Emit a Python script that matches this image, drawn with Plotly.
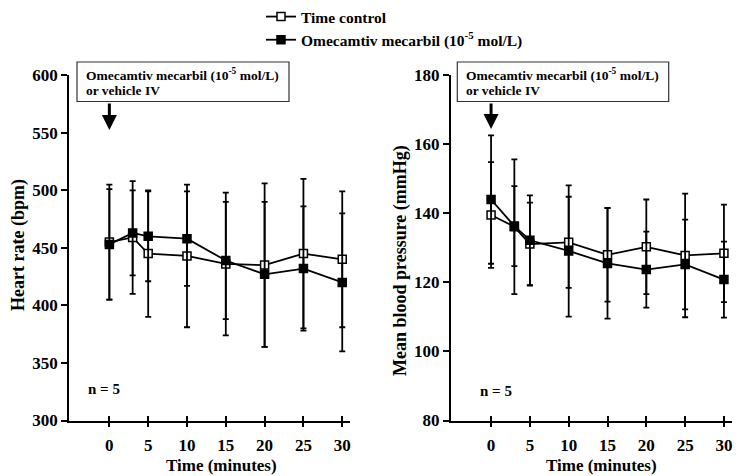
import plotly.graph_objects as go

# ---------------- data ----------------
time_min = [0, 3, 5, 10, 15, 20, 25, 30]

hr_control = [455, 459, 445, 443, 436, 435, 445, 440]
hr_control_sd = [50, 49, 55, 62, 62, 71, 65, 59]
hr_omecamtiv = [453, 463, 460, 458, 439, 427, 432, 420]
hr_omecamtiv_sd = [48, 37, 39, 41, 51, 63, 54, 60]

mbp_control = [139.5, 136.1, 131.1, 131.6, 128.0, 130.3, 127.8, 128.4]
mbp_control_sd = [15.3, 19.5, 12.0, 13.2, 13.6, 13.7, 17.9, 14.1]
mbp_omecamtiv = [144.0, 136.3, 132.2, 129.1, 125.5, 123.7, 125.2, 120.8]
mbp_omecamtiv_sd = [18.6, 11.6, 13.0, 19.0, 16.0, 11.0, 13.0, 11.0]

x_ticks = [0, 5, 10, 15, 20, 25, 30]
hr_ticks = [300, 350, 400, 450, 500, 550, 600]
mbp_ticks = [80, 100, 120, 140, 160, 180]

name_control = "Time control"
name_omec = "Omecamtiv mecarbil (10<sup>-5</sup> mol/L)"
box_line1 = "Omecamtiv mecarbil (10<sup>-5</sup> mol/L)"
box_line2 = "or vehicle IV"

W, H = 750, 476
MT, MB = 40, 40
FONT = "Liberation Serif"


def px(x):
    return x / W


def py(y):
    # pixel y (from top of the page) -> paper fraction of the plot area
    return (H - MB - y) / (H - MT - MB)


fig = go.Figure()


def add_series(xa, ya, y, sd, name, filled, show):
    fig.add_trace(go.Scatter(
        x=time_min, y=y, name=name, xaxis=xa, yaxis=ya,
        mode="lines+markers", showlegend=show, legendgroup=name,
        line=dict(color="black", width=1.8),
        marker=dict(symbol="square", size=8,
                    color="black" if filled else "white",
                    line=dict(color="black", width=1.5)),
        error_y=dict(type="data", array=sd, visible=True,
                     color="black", thickness=1.8, width=3),
        cliponaxis=False,
    ))


add_series("x", "y", hr_control, hr_control_sd, name_control, False, True)
add_series("x", "y", hr_omecamtiv, hr_omecamtiv_sd, name_omec, True, True)
add_series("x2", "y2", mbp_control, mbp_control_sd, name_control, False, False)
add_series("x2", "y2", mbp_omecamtiv, mbp_omecamtiv_sd, name_omec, True, False)

# empty traces so overlay axes (inside tick marks) are drawn
fig.add_trace(go.Scatter(x=[], y=[], xaxis="x3", yaxis="y", showlegend=False))
fig.add_trace(go.Scatter(x=[], y=[], xaxis="x4", yaxis="y2", showlegend=False))

xrange_ = [-5.2, 31.0]
dom_l = [px(69), px(350)]
dom_r = [px(450.7), px(731.7)]
ydom = [py(420.5), py(75.2)]

tickfont = dict(family=FONT, size=17, color="black", weight="bold")

xcommon = dict(range=xrange_, tickmode="array", tickvals=x_ticks,
               showline=True, linecolor="black", linewidth=1.5,
               ticks="outside", ticklen=5, tickwidth=1.5, tickcolor="black",
               showgrid=False, zeroline=False, tickfont=tickfont,
               ticklabelstandoff=3, automargin=False)
xover = dict(range=xrange_, tickmode="array", tickvals=x_ticks,
             showline=False, ticks="inside", ticklen=5, tickwidth=1.5,
             tickcolor="black", showgrid=False, zeroline=False,
             showticklabels=False, automargin=False)
ycommon = dict(showline=True, linecolor="black", linewidth=1.5,
               ticks="outside", ticklen=6, tickwidth=1.5, tickcolor="black",
               showgrid=False, zeroline=False, tickfont=tickfont,
               automargin=False)

fig.update_layout(
    width=W, height=H, autosize=False,
    margin=dict(l=0, r=0, t=MT, b=MB, pad=0),
    paper_bgcolor="white", plot_bgcolor="white",
    font=dict(family=FONT, color="black", weight="bold"),
    xaxis=dict(domain=dom_l, anchor="y", **xcommon),
    xaxis3=dict(domain=dom_l, anchor="y", overlaying="x", **xover),
    yaxis=dict(domain=ydom, anchor="x", range=[300, 600],
               tickmode="array", tickvals=hr_ticks, **ycommon),
    xaxis2=dict(domain=dom_r, anchor="y2", **xcommon),
    xaxis4=dict(domain=dom_r, anchor="y2", overlaying="x2", **xover),
    yaxis2=dict(domain=ydom, anchor="x2", range=[80, 180],
                tickmode="array", tickvals=mbp_ticks, **ycommon),
    legend=dict(x=px(261), y=py(0), xanchor="left", yanchor="top",
                font=dict(family=FONT, size=15.5, color="black", weight="bold"),
                bgcolor="rgba(0,0,0,0)", tracegroupgap=0),
    showlegend=True,
)

annotations = []
shapes = []
textfont = dict(family=FONT, size=13.5, color="black", weight="bold")

for (bx0, bx1, tx, arrow_x, arrow_y, xref) in [
    (77, 289, 84, 0, 130, "x"),
    (457.3, 668.7, 464, 0, 129, "x2"),
]:
    shapes.append(dict(type="rect", xref="paper", yref="paper",
                       x0=px(bx0), x1=px(bx1), y0=py(101.5), y1=py(62),
                       line=dict(color="#333333", width=1.2),
                       fillcolor="white", layer="above"))
    annotations.append(dict(text=box_line1, xref="paper", yref="paper",
                            x=px(tx), y=py(74), xanchor="left",
                            yanchor="middle", showarrow=False, font=textfont))
    annotations.append(dict(text=box_line2, xref="paper", yref="paper",
                            x=px(tx), y=py(90), xanchor="left",
                            yanchor="middle", showarrow=False, font=textfont))
    annotations.append(dict(text="", xref=xref, yref="paper",
                            x=arrow_x, y=py(arrow_y), ax=0,
                            ay=-(arrow_y - 102), showarrow=True,
                            arrowhead=2, arrowsize=1, arrowwidth=3,
                            arrowcolor="black"))

nfont = dict(family=FONT, size=15, color="black", weight="bold")
annotations.append(dict(text="n = 5", xref="paper", yref="paper",
                        x=px(85.5), y=py(389), xanchor="left",
                        yanchor="middle", showarrow=False, font=nfont))
annotations.append(dict(text="n = 5", xref="paper", yref="paper",
                        x=px(477.5), y=py(391), xanchor="left",
                        yanchor="middle", showarrow=False, font=nfont))

tfont = dict(family=FONT, size=17, color="black", weight="bold")
annotations.append(dict(text="Time (minutes)", xref="paper", yref="paper",
                        x=px(221), y=py(465), xanchor="center",
                        yanchor="middle", showarrow=False, font=tfont))
annotations.append(dict(text="Time (minutes)", xref="paper", yref="paper",
                        x=px(601), y=py(465), xanchor="center",
                        yanchor="middle", showarrow=False, font=tfont))
yfont = dict(family=FONT, size=18, color="black", weight="bold")
annotations.append(dict(text="Heart rate (bpm)", xref="paper", yref="paper",
                        x=px(18), y=py(245), xanchor="center",
                        yanchor="middle", textangle=-90, showarrow=False,
                        font=yfont))
annotations.append(dict(text="Mean blood pressure (mmHg)", xref="paper",
                        yref="paper", x=px(400), y=py(261), xanchor="center",
                        yanchor="middle", textangle=-90, showarrow=False,
                        font=yfont))

fig.update_layout(annotations=annotations, shapes=shapes)
fig.write_html("out.html")
